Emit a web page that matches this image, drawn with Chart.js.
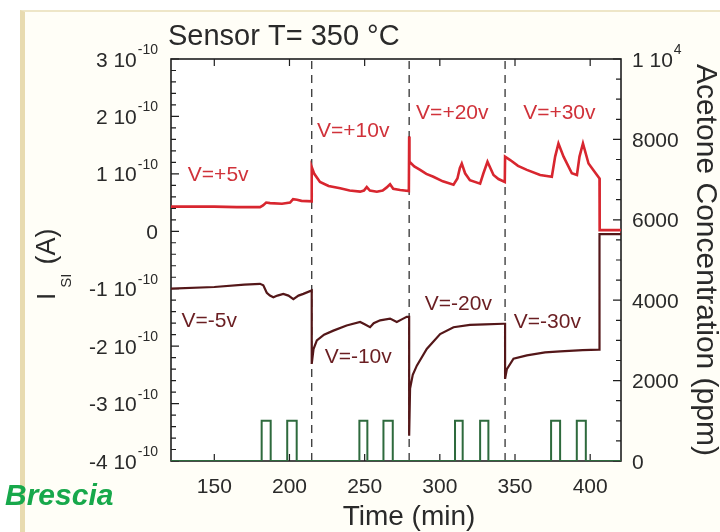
<!DOCTYPE html>
<html>
<head>
<meta charset="utf-8">
<script src="https://cdn.jsdelivr.net/npm/chart.js@4.4.1/dist/chart.umd.min.js"></script>
<style>
  html, body { margin: 0; padding: 0; background: #fff; }
  #wrap { position: relative; width: 720px; height: 532px; overflow: hidden; }
  #slide { position: absolute; left: 20px; top: 10px; right: 0; bottom: 0; background: #fffef7;
           border-left: 5px solid #e8dbb0; border-top: 2px solid #eee6c8; }
  #chart { position: absolute; left: 0; top: 0; }
</style>
</head>
<body>
<div id="wrap">
  <div id="slide"></div>
  <canvas id="chart" width="720" height="532"></canvas>
</div>
<script>
// time axis in minutes, currents in units of 1e-10 A, acetone in ppm

// positive bias trace (V=+5, +10, +20, +30 v)
const posTime = [121.2, 150, 165, 180.4, 182.4, 184.5, 187.1, 195, 200.4, 202.4, 205, 208, 214.8,
  214.8, 216.5, 220.3, 226, 233.7, 240, 247.0, 249.5, 251.4, 253.5, 258.1, 262, 264.5, 266.9, 269, 273.6, 279.4,
  279.6, 279.8, 283, 286.9, 291, 295.7, 302, 309.1, 311.7, 313.3, 314.6, 316.8, 320.0, 326.8, 329.0, 331.7, 335.7, 339, 343.2,
  343.4, 346.8, 352, 357.9, 366.7, 374.5, 376.7, 378.9, 382.3, 387.8, 391.2, 392.9, 395.2, 398.9, 404.5, 406.2,
  406.3, 420.5];
const posCurrent = [0.43, 0.43, 0.42, 0.42, 0.45, 0.50, 0.49, 0.48, 0.50, 0.56, 0.55, 0.53, 0.52,
  1.12, 1.00, 0.86, 0.79, 0.75, 0.71, 0.69, 0.71, 0.77, 0.71, 0.69, 0.71, 0.76, 0.82, 0.74, 0.72, 0.70,
  1.65, 1.21, 1.13, 1.07, 1.00, 0.95, 0.87, 0.81, 0.92, 1.10, 1.18, 1.01, 0.89, 0.83, 1.01, 1.21, 0.98, 0.91, 0.86,
  1.30, 1.24, 1.14, 1.07, 0.98, 0.95, 1.30, 1.53, 1.30, 1.01, 0.98, 1.30, 1.53, 1.18, 0.98, 0.92,
  0.02, 0.02];

// negative bias trace (V=-5, -10, -20, -30 v)
const negTime = [121.2, 150, 170, 180.4, 182.6, 184.9, 187, 189.3, 192, 195.9, 199.3, 202.6, 206, 209.2, 214.8,
  214.8, 216, 218.2, 223, 229.2, 238, 247.0, 250, 253.6, 256, 260.3, 266.9, 271.4, 275, 278.0, 279.6,
  279.6, 280.2, 282, 284.7, 291.3, 300.2, 309.1, 320.0, 330, 342.3, 343.4,
  343.4, 344.6, 349.0, 357.9, 370, 380.1, 395, 405.7, 406.2,
  406.2, 420.5];
const negCurrent = [-1.00, -0.97, -0.93, -0.915, -0.94, -1.07, -1.12, -1.15, -1.12, -1.09, -1.12, -1.18, -1.12, -1.09, -1.03,
  -2.31, -2.05, -1.90, -1.80, -1.73, -1.64, -1.58, -1.62, -1.67, -1.60, -1.55, -1.52, -1.58, -1.53, -1.49, -1.49,
  -3.56, -2.74, -2.50, -2.34, -2.05, -1.79, -1.67, -1.63, -1.62, -1.61, -1.61,
  -2.57, -2.40, -2.22, -2.16, -2.11, -2.09, -2.07, -2.06, -2.06,
  -0.05, -0.05];

// acetone pulses (right axis)
const pulseOn = [181.5, 198.5, 246.5, 262.5, 310.1, 326.8, 374.0, 391.1];
const pulseOff = [187.5, 204.8, 251.8, 268.7, 315.2, 332.3, 380.0, 397.1];
const pulseLevel = 1000;

// bias switching times (dashed lines)
const switchTimes = [214.8, 279.6, 343.4];

// tick labels
const xTicks = [150, 200, 250, 300, 350, 400];
const leftTicks = [-4, -3, -2, -1, 0, 1, 2, 3];
const rightTicks = [0, 2000, 4000, 6000, 8000, 10000];

const FONT = '"Liberation Sans", Arial, Helvetica, sans-serif';

const posPoints = posTime.map((t, i) => ({x: t, y: posCurrent[i]}));
const negPoints = negTime.map((t, i) => ({x: t, y: negCurrent[i]}));

const acetone = [{x: 121.2, y: 0}];
pulseOn.forEach((t, i) => {
    acetone.push({x: t, y: 0}, {x: t, y: pulseLevel}, {x: pulseOff[i], y: pulseLevel}, {x: pulseOff[i], y: 0});
});
acetone.push({x: 420.5, y: 0});

const datasets = [
    {data: acetone, yAxisID: 'y2', borderColor: '#2e6a3d', borderWidth: 2},
    {data: posPoints, yAxisID: 'y', borderColor: '#d8262f', borderWidth: 2.6},
    {data: posPoints.filter(p => p.x >= 214.8), yAxisID: 'y', borderColor: '#5a1418', borderWidth: 1},
    {data: negPoints, yAxisID: 'y', borderColor: '#541719', borderWidth: 2.2}
];
switchTimes.forEach(t => {
    datasets.push({data: [{x: t, y: -4}, {x: t, y: 3}], yAxisID: 'y',
        borderColor: '#333', borderWidth: 1.3, borderDash: [8, 6]});
});

function supLabel(ctx, base, sup, x, y, align) {
    ctx.font = '21px ' + FONT;
    const bw = ctx.measureText(base).width;
    ctx.font = '14px ' + FONT;
    const sw = sup ? ctx.measureText(sup).width + 1 : 0;
    const x0 = align === 'right' ? x - bw - sw : x;
    ctx.font = '21px ' + FONT;
    ctx.fillText(base, x0, y + 7.5);
    if (sup) {
        ctx.font = '14px ' + FONT;
        ctx.fillText(sup, x0 + bw + 1, y - 5);
    }
}

const decor = {
    id: 'decor',
    beforeDatasetsDraw(chart) {
        const {ctx, chartArea: a, scales} = chart;
        ctx.save();
        ctx.fillStyle = '#fff';
        ctx.fillRect(a.left, a.top, a.width, a.height);
        ctx.strokeStyle = '#1e1e1e';
        ctx.lineWidth = 1.2;
        ctx.beginPath();
        xTicks.forEach(t => {
            const px = scales.x.getPixelForValue(t);
            ctx.moveTo(px, a.bottom); ctx.lineTo(px, a.bottom - 7);
            ctx.moveTo(px, a.top); ctx.lineTo(px, a.top + 7);
        });
        for (let i = 0; i <= 35; i++) {
            const py = scales.y.getPixelForValue(-4 + i * 0.2);
            ctx.moveTo(a.left, py); ctx.lineTo(a.left + (i % 5 === 0 ? 8 : 5), py);
        }
        for (let i = 0; i <= 20; i++) {
            const py = scales.y2.getPixelForValue(i * 500);
            ctx.moveTo(a.right, py); ctx.lineTo(a.right - (i % 4 === 0 ? 8 : 5), py);
        }
        ctx.stroke();
        ctx.lineWidth = 1.6;
        ctx.strokeRect(a.left, a.top, a.width, a.height);
        ctx.restore();
    },
    afterDraw(chart) {
        const {ctx, chartArea: a, scales} = chart;
        const opts = chart.options.plugins.decor;
        ctx.save();
        ctx.fillStyle = '#2a2a2a';
        ctx.textAlign = 'left';
        ctx.textBaseline = 'alphabetic';

        leftTicks.forEach(v => {
            const py = scales.y.getPixelForValue(v);
            supLabel(ctx, v === 0 ? '0' : v + ' 10', v === 0 ? '' : '-10', a.left - 13, py, 'right');
        });
        rightTicks.forEach(v => {
            const py = scales.y2.getPixelForValue(v);
            supLabel(ctx, v === 10000 ? '1 10' : String(v), v === 10000 ? '4' : '', a.right + 11, py, 'left');
        });

        // title
        ctx.font = '29px ' + FONT;
        ctx.fillText('Sensor T= 350 °C', 168, 45);

        // x title
        ctx.font = '28px ' + FONT;
        ctx.textAlign = 'center';
        ctx.fillText('Time (min)', 409, 525);

        // right title
        ctx.save();
        ctx.translate(697, (a.top + a.bottom) / 2);
        ctx.rotate(Math.PI / 2);
        ctx.font = '30px ' + FONT;
        ctx.fillText('Acetone Concentration (ppm)', 0, 0);
        ctx.restore();

        // left title I_SI (A)
        ctx.save();
        ctx.translate(55, 300);
        ctx.rotate(-Math.PI / 2);
        ctx.textAlign = 'left';
        ctx.font = '26px ' + FONT;
        ctx.fillText('I', 0, 0);
        let w = ctx.measureText('I').width + 5;
        ctx.font = '15px ' + FONT;
        ctx.fillText('SI', w, 16);
        w += ctx.measureText('SI').width + 9;
        ctx.font = '27px ' + FONT;
        ctx.fillText('(A)', w, 0);
        ctx.restore();

        // bias labels
        ctx.textAlign = 'center';
        ctx.textBaseline = 'middle';
        ctx.font = '21px ' + FONT;
        opts.labels.forEach(l => {
            ctx.fillStyle = l.color;
            ctx.fillText(l.text, scales.x.getPixelForValue(l.t), scales.y.getPixelForValue(l.v));
        });

        // Brescia
        ctx.textAlign = 'left';
        ctx.textBaseline = 'alphabetic';
        ctx.fillStyle = '#17a84b';
        ctx.font = 'italic bold 30px ' + FONT;
        ctx.fillText('Brescia', 5, 505);
        ctx.restore();
    }
};

const red = '#d0323a';
const maroon = '#6a1e22';

new Chart(document.getElementById('chart'), {
    type: 'line',
    data: {datasets: datasets},
    options: {
        responsive: false,
        animation: false,
        layout: {padding: {top: 59, left: 0, right: 0, bottom: 0}},
        elements: {point: {radius: 0}, line: {tension: 0}},
        plugins: {
            legend: {display: false},
            tooltip: {enabled: false},
            decor: {
                labels: [
                    {text: 'V=+5v', t: 152.6, v: 0.98, color: red},
                    {text: 'V=+10v', t: 242.4, v: 1.745, color: red},
                    {text: 'V=+20v', t: 308.3, v: 2.06, color: red},
                    {text: 'V=+30v', t: 379.5, v: 2.06, color: red},
                    {text: 'V=-5v', t: 146.6, v: -1.565, color: maroon},
                    {text: 'V=-10v', t: 245.7, v: -2.19, color: maroon},
                    {text: 'V=-20v', t: 312.3, v: -1.27, color: maroon},
                    {text: 'V=-30v', t: 371.5, v: -1.58, color: maroon}
                ]
            }
        },
        scales: {
            x: {
                type: 'linear', min: 121.2, max: 420.5,
                grid: {display: false}, border: {display: false},
                ticks: {maxRotation: 0, padding: 6,
                        color: '#2a2a2a', font: {size: 21, family: FONT}},
                afterBuildTicks(s) { s.ticks = xTicks.map(v => ({value: v})); },
                afterFit(s) { s.height = 71; }
            },
            y: {
                min: -4, max: 3, position: 'left',
                grid: {display: false}, border: {display: false},
                ticks: {display: false},
                afterFit(s) { s.width = 171; }
            },
            y2: {
                min: 0, max: 10000, position: 'right',
                grid: {display: false}, border: {display: false},
                ticks: {display: false},
                afterFit(s) { s.width = 99; }
            }
        }
    },
    plugins: [decor]
});
</script>
</body>
</html>
